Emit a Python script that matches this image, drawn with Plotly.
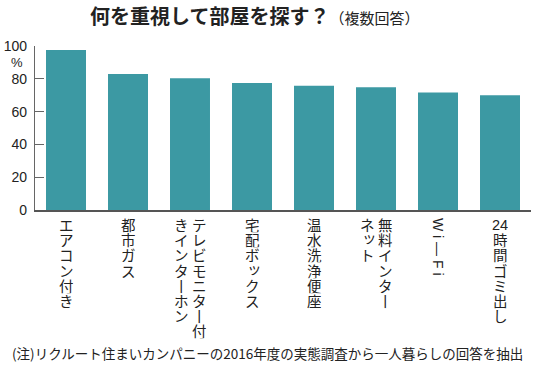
import plotly.graph_objects as go

categories = ["エアコン付き", "都市ガス", "テレビモニター付きインターホン", "宅配ボックス",
              "温水洗浄便座", "無料インターネット", "Wi-Fi", "24時間ゴミ出し"]
values = [97.6, 83.0, 80.3, 77.5, 75.8, 74.8, 71.7, 69.9]
# vertical label columns (right column first, as read in vertical Japanese)
label_columns = [
    [["エ", "ア", "コ", "ン", "付", "き"]],
    [["都", "市", "ガ", "ス"]],
    [["テ", "レ", "ビ", "モ", "ニ", "タ", "ー", "付"], ["き", "イ", "ン", "タ", "ー", "ホ", "ン"]],
    [["宅", "配", "ボ", "ッ", "ク", "ス"]],
    [["温", "水", "洗", "浄", "便", "座"]],
    [["無", "料", "イ", "ン", "タ", "ー"], ["ネ", "ッ", "ト"]],
    None,
    [["24", "時", "間", "ゴ", "ミ", "出", "し"]],
]
y_ticks = [0, 20, 40, 60, 80, 100]
title_main = "何を重視して部屋を探す？"
title_sub = "（複数回答）"
footnote = "(注)リクルート住まいカンパニーの2016年度の実態調査から一人暮らしの回答を抽出"

JP = "Noto Sans CJK JP"
TXT = "#222222"
BAR = "#3c99a3"
STEP = 15.2

fig = go.Figure(go.Bar(x=categories, y=values, marker=dict(color=BAR, line=dict(width=0)),
                       hoverinfo="skip"))

ann = []
small = {"ッ", "ィ", "ャ", "ュ", "ョ"}
for ci, cols in enumerate(label_columns):
    cat = categories[ci]
    if cols is None:
        ann.append(dict(x=cat, xref="x", y=0, yref="paper", yanchor="top", xanchor="center",
                        text="W i — F i", textangle=90, showarrow=False, yshift=-6,
                        font=dict(family="Liberation Sans", size=14, color=TXT)))
        continue
    n = len(cols)
    offsets = [0] if n == 1 else [9, -9]
    for k, col in enumerate(cols):
        for i, ch in enumerate(col):
            xs = offsets[k]
            ys = -(6 + i * STEP)
            txt = ch
            if ch == "ー":
                txt = "丨"
            if ch in small:
                xs += 2
                ys += 3
            ann.append(dict(x=cat, xref="x", y=0, yref="paper", yanchor="top", xanchor="center",
                            text=txt, showarrow=False, xshift=xs, yshift=ys,
                            height=STEP, borderpad=0,
                            font=dict(family="Liberation Sans, " + JP if ch.isdigit() else JP,
                                      size=14.5, color=TXT)))

ann.append(dict(x=0, xref="paper", y=100, yref="y", xanchor="right", yanchor="middle",
                text="%", showarrow=False, xshift=-10, yshift=-16,
                font=dict(family="Liberation Sans", size=13, color=TXT)))
ann.append(dict(x=-25 / 496, xref="paper", y=0, yref="paper", xanchor="left", yanchor="middle",
                text=footnote, showarrow=False, yshift=-143,
                font=dict(family=JP, size=13.5, color=TXT)))

fig.update_layout(
    width=550, height=366,
    margin=dict(l=35, r=19, t=46, b=156, autoexpand=False),
    paper_bgcolor="white", plot_bgcolor="white",
    bargap=0.355,
    showlegend=False,
    title=dict(text=f"<b>{title_main}</b><span style='font-size:15px'>{title_sub}</span>",
               x=90 / 550, xanchor="left", xref="container",
               y=1 - 17 / 366, yanchor="middle", yref="container",
               font=dict(family=JP, size=20, color=TXT)),
    annotations=ann,
)
fig.update_xaxes(showticklabels=False, ticks="", showline=True, linecolor="#555555", linewidth=1.5,
                 showgrid=False, zeroline=False, fixedrange=True, automargin=False)
fig.update_yaxes(range=[0, 100], tickvals=y_ticks, ticks="inside", ticklen=9, tickcolor="#666666",
                 tickwidth=1.2, showline=True, linecolor="#666666", linewidth=1.2, showgrid=False,
                 zeroline=False, ticklabelstandoff=4, automargin=False, fixedrange=True,
                 tickfont=dict(family="Liberation Sans", size=14, color=TXT))

fig.write_html("out.html", config={"displayModeBar": False, "staticPlot": True},
               post_script="document.body.style.margin='0px';document.body.style.overflow='hidden';")
